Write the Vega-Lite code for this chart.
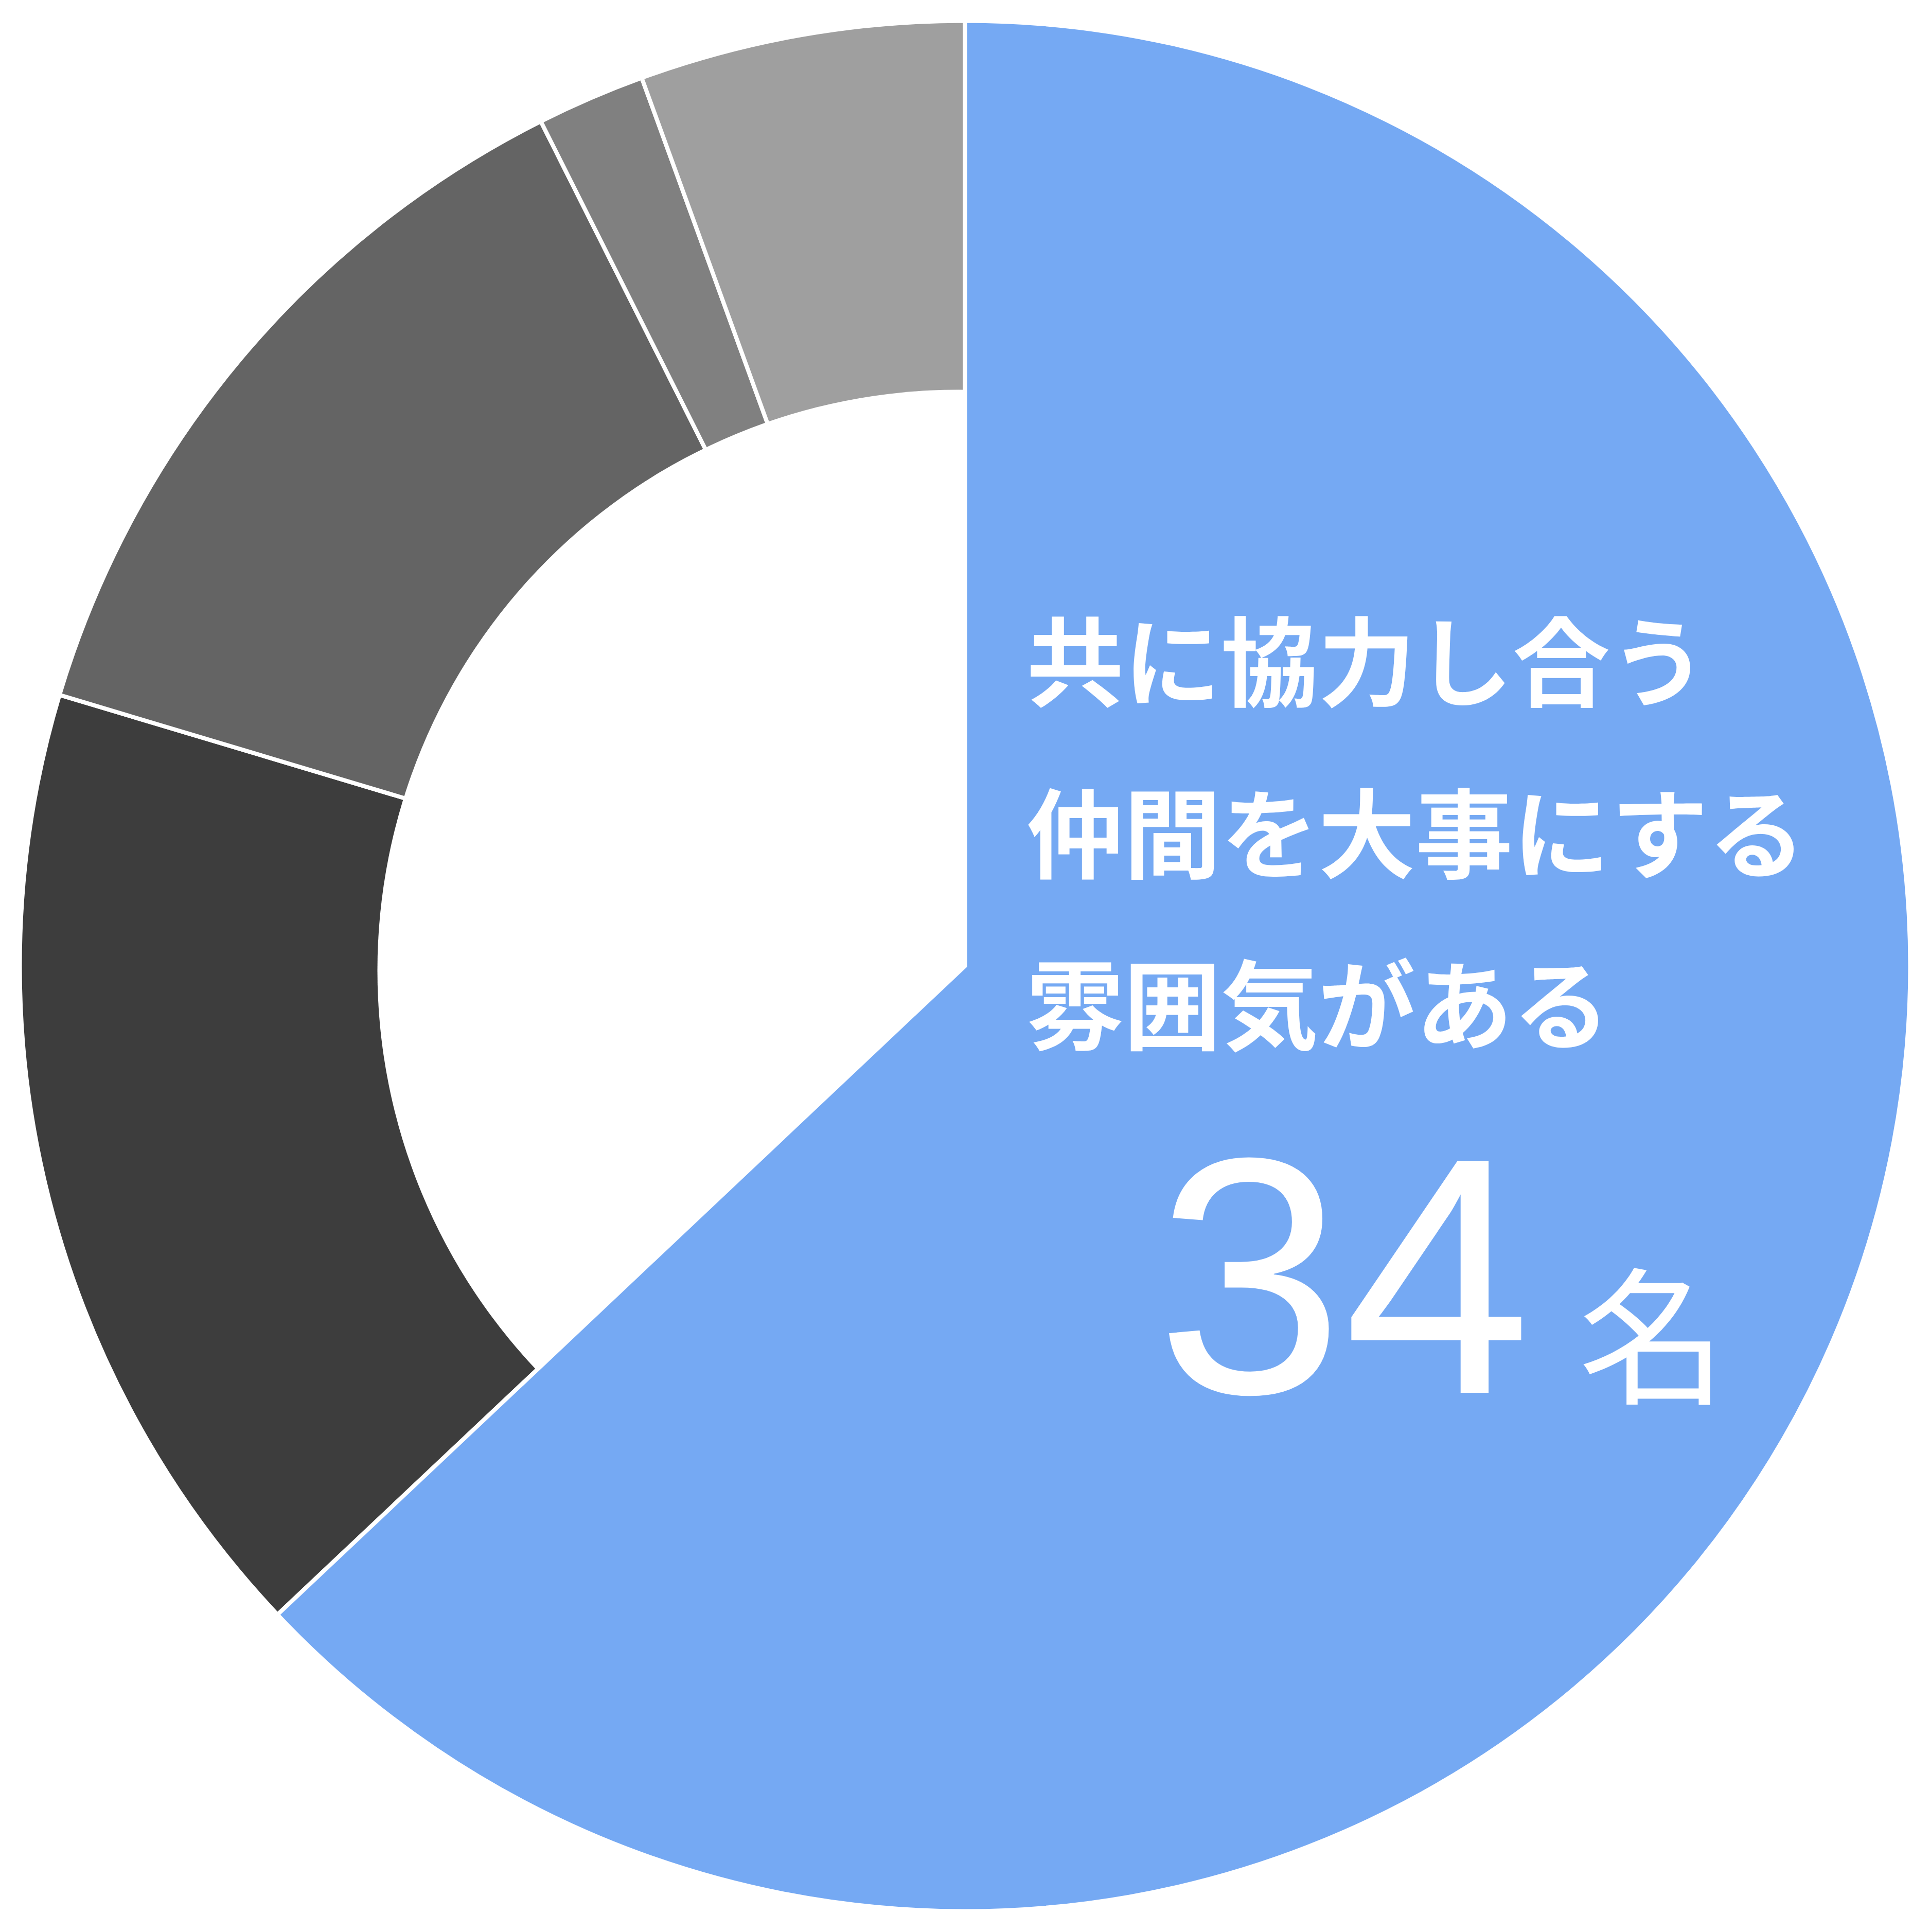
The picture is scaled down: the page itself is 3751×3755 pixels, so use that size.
{
  "$schema": "https://vega.github.io/schema/vega-lite/v6.json",
  "width": 3751,
  "height": 3755,
  "autosize": {"type": "fit", "contains": "padding"},
  "padding": 0,
  "background": "white",
  "config": {"view": {"stroke": null}},
  "datasets": {
    "answers": [
      {"answer": "共に協力し合う仲間を大事にする雰囲気がある", "count": 34, "rank": 1},
      {"answer": "回答B", "count": 9, "rank": 2},
      {"answer": "回答C", "count": 7, "rank": 3},
      {"answer": "回答D", "count": 1, "rank": 4},
      {"answer": "回答E", "count": 3, "rank": 5}
    ],
    "labels": [
      {"part": "phrase", "text": "共に協力し合う", "x": 0.0652, "y": 0.2834},
      {"part": "phrase", "text": "仲間を大事にする", "x": 0.0652, "y": 0.1012},
      {"part": "phrase", "text": "雰囲気がある", "x": 0.0652, "y": -0.0805},
      {"part": "number", "text": "34", "x": 0.2027, "y": -0.4525},
      {"part": "unit", "text": "名", "x": 0.6505, "y": -0.4525}
    ]
  },
  "layer": [
    {
      "data": {"name": "answers"},
      "mark": {"type": "arc", "outerRadius": 1837, "innerRadius": 0, "stroke": "white", "strokeWidth": 8},
      "encoding": {
        "theta": {"field": "count", "type": "quantitative", "stack": true},
        "order": {"field": "rank", "type": "quantitative"},
        "color": {
          "field": "answer",
          "type": "nominal",
          "scale": {
            "domain": ["共に協力し合う仲間を大事にする雰囲気がある", "回答B", "回答C", "回答D", "回答E"],
            "range": ["#75a9f3", "#3d3d3d", "#646464", "#808080", "#9f9f9f"]
          },
          "legend": null
        }
      }
    },
    {
      "data": {"values": [{"hole": "center"}]},
      "mark": {"type": "arc", "theta": 0, "theta2": 6.2832, "outerRadius": 1129, "innerRadius": 0, "fill": "white", "xOffset": -13, "yOffset": 9},
      "encoding": {}
    },
    {
      "data": {"name": "answers"},
      "mark": {"type": "arc", "outerRadius": 1837, "innerRadius": 0, "stroke": "white", "strokeWidth": 8},
      "encoding": {
        "theta": {"field": "count", "type": "quantitative", "stack": true},
        "order": {"field": "rank", "type": "quantitative"},
        "color": {"field": "answer", "type": "nominal", "legend": null},
        "opacity": {"condition": {"test": "datum.rank == 1", "value": 1}, "value": 0}
      }
    },
    {
      "data": {"name": "labels"},
      "transform": [{"filter": "datum.part == 'phrase'"}],
      "mark": {"type": "text", "align": "left", "baseline": "alphabetic", "color": "white", "font": "Noto Sans CJK JP", "fontSize": 189, "fontWeight": "bold"},
      "encoding": {
        "x": {"field": "x", "type": "quantitative", "scale": {"domain": [-1.0232, 1.0232], "nice": false, "zero": false}, "axis": null},
        "y": {"field": "y", "type": "quantitative", "scale": {"domain": [-1.0243, 1.0243], "nice": false, "zero": false}, "axis": null},
        "text": {"field": "text"}
      }
    },
    {
      "data": {"name": "labels"},
      "transform": [{"filter": "datum.part == 'number'"}],
      "mark": {"type": "text", "align": "left", "baseline": "alphabetic", "color": "white", "font": "Liberation Sans", "fontSize": 655},
      "encoding": {
        "x": {"field": "x", "type": "quantitative", "axis": null},
        "y": {"field": "y", "type": "quantitative", "axis": null},
        "text": {"field": "text"}
      }
    },
    {
      "data": {"name": "labels"},
      "transform": [{"filter": "datum.part == 'unit'"}],
      "mark": {"type": "text", "align": "left", "baseline": "alphabetic", "color": "white", "font": "Noto Sans CJK JP", "fontSize": 288},
      "encoding": {
        "x": {"field": "x", "type": "quantitative", "axis": null},
        "y": {"field": "y", "type": "quantitative", "axis": null},
        "text": {"field": "text"}
      }
    }
  ]
}
